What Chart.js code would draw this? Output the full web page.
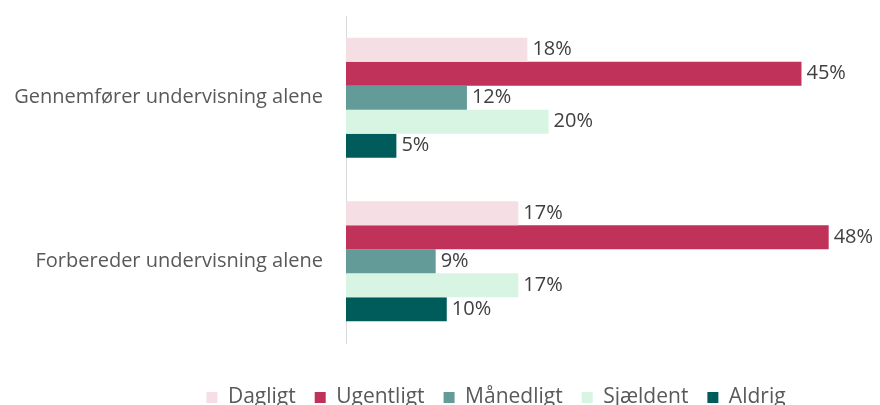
<!DOCTYPE html>
<html>
<head>
<meta charset="utf-8">
<script src="https://cdn.jsdelivr.net/npm/chart.js@4"></script>
<style>
  html, body { margin: 0; padding: 0; background: #ffffff; overflow: hidden; width: 880px; height: 405px; }
  #wrap { width: 880px; height: 418px; }
</style>
</head>
<body>
<div id="wrap"><canvas id="c" width="880" height="418"></canvas></div>
<script>
// ---- data ----
const categories = ['Gennemfører undervisning alene', 'Forbereder undervisning alene'];
const seriesNames = ['Dagligt', 'Ugentligt', 'Månedligt', 'Sjældent', 'Aldrig'];
const dagligt    = [18.0, 17.1];
const ugentligt  = [45.2, 47.9];
const maanedligt = [12.0, 8.9];
const sjaeldent  = [20.1, 17.1];
const aldrig     = [5.0, 10.0];
const seriesColors = ['#f5dfe5', '#c0325a', '#639b99', '#d7f5e2', '#005c5a'];

const FONT = "'Open Sans', 'Noto Sans', sans-serif";

const valueLabels = {
  id: 'valueLabels',
  afterDatasetsDraw(chart) {
    const ctx = chart.ctx;
    ctx.save();
    ctx.font = '20px ' + FONT;
    ctx.fillStyle = '#404040';
    ctx.textAlign = 'left';
    ctx.textBaseline = 'middle';
    chart.data.datasets.forEach((ds, i) => {
      const meta = chart.getDatasetMeta(i);
      meta.data.forEach((bar, j) => {
        ctx.fillText(Math.round(ds.data[j]) + '%', bar.x + 5, bar.y);
      });
    });
    ctx.restore();
  }
};

const legendShift = {
  id: 'legendShift',
  afterLayout(chart) {
    const lg = chart.legend;
    if (lg) { lg.left += 61; lg.right += 61; }
  }
};

const seriesData = [dagligt, ugentligt, maanedligt, sjaeldent, aldrig];

new Chart(document.getElementById('c'), {
  type: 'bar',
  data: {
    labels: categories,
    datasets: seriesNames.map((name, i) => ({
      label: name,
      data: seriesData[i],
      backgroundColor: seriesColors[i],
      borderWidth: 0,
      categoryPercentage: 0.734,
      barPercentage: 1.0
    }))
  },
  options: {
    indexAxis: 'y',
    responsive: false,
    animation: false,
    devicePixelRatio: 1,
    layout: { padding: { top: 16, right: 10, left: 0, bottom: 0 } },
    scales: {
      x: {
        min: 0, max: 52,
        display: true,
        grid: { display: false, drawTicks: false },
        border: { display: false },
        ticks: { display: false },
        afterFit: s => { s.height = 25; s.paddingLeft = 0; s.paddingRight = 0; }
      },
      y: {
        grid: { display: false, drawTicks: false },
        border: { display: true, color: '#d9d9d9', width: 1 },
        ticks: { color: '#595959', font: { family: FONT, size: 20 }, padding: 23 },
        afterFit: s => { s.width = 346; s.paddingTop = 0; s.paddingBottom = 0; }
      }
    },
    plugins: {
      tooltip: { enabled: false },
      legend: {
        position: 'bottom',
        labels: {
          boxWidth: 11, boxHeight: 11, padding: 19,
          color: '#595959',
          font: { family: FONT, size: 21 }
        }
      }
    }
  },
  plugins: [valueLabels, legendShift]
});
</script>
</body>
</html>
